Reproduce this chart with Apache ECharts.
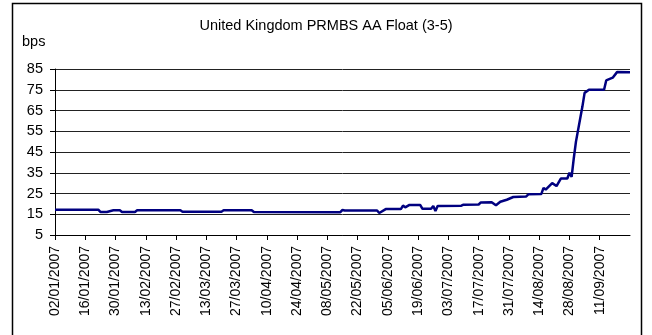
<!DOCTYPE html>
<html>
<head>
<meta charset="utf-8">
<script src="https://cdn.jsdelivr.net/npm/echarts@6/dist/echarts.min.js"></script>
<style>
html,body{margin:0;padding:0;background:#fff;}
#chart{width:652px;height:335px;}
</style>
</head>
<body>
<div id="chart"></div>
<script>
// observation dates (dd/mm/yyyy) and spread in bps
var dates = [
    '02/01/2007','22/01/2007','23/01/2007','26/01/2007','29/01/2007','01/02/2007','02/02/2007',
    '08/02/2007','09/02/2007','01/03/2007','02/03/2007','20/03/2007','21/03/2007','03/04/2007',
    '04/04/2007','14/05/2007','15/05/2007','16/05/2007','31/05/2007','01/06/2007','04/06/2007',
    '11/06/2007','12/06/2007','13/06/2007','15/06/2007','20/06/2007','21/06/2007','25/06/2007',
    '26/06/2007','27/06/2007','28/06/2007','09/07/2007','10/07/2007','17/07/2007','18/07/2007',
    '23/07/2007','25/07/2007','27/07/2007','30/07/2007','02/08/2007','08/08/2007','09/08/2007',
    '15/08/2007','16/08/2007','17/08/2007','20/08/2007','22/08/2007','24/08/2007','27/08/2007',
    '28/08/2007','29/08/2007','30/08/2007','31/08/2007','03/09/2007','04/09/2007','06/09/2007',
    '13/09/2007','14/09/2007','17/09/2007','19/09/2007','25/09/2007'
];
var values = [
    17.2,17.2,16.1,16.1,16.9,16.9,16.1,
    16.1,16.9,16.9,16.2,16.2,16.9,16.9,
    16.1,16.0,17.1,16.8,16.8,15.6,17.5,
    17.5,19.2,18.3,19.5,19.4,17.6,17.6,
    19.0,16.5,19.0,19.1,19.6,19.7,20.7,
    20.8,19.3,21.0,22.0,23.3,23.6,24.6,
    24.8,27.7,26.9,30.0,28.6,32.2,32.2,
    35.0,33.0,42.0,50.0,67.0,73.5,75.0,
    75.0,79.5,80.8,83.5,83.4
];
// x axis tick labels, every 14 days from 02/01/2007
var tickLabels = [
    '02/01/2007','16/01/2007','30/01/2007','13/02/2007','27/02/2007','13/03/2007','27/03/2007',
    '10/04/2007','24/04/2007','08/05/2007','22/05/2007','05/06/2007','19/06/2007','03/07/2007',
    '17/07/2007','31/07/2007','14/08/2007','28/08/2007','11/09/2007'
];

function toDay(s){
    var p = s.split('/');
    var t = Date.UTC(+p[2], +p[1]-1, +p[0]);
    return Math.round((t - Date.UTC(2007,0,2)) / 86400000);
}

var seriesData = dates.map(function(d,i){ return [toDay(d), values[i]]; });

var chart = echarts.init(document.getElementById('chart'));
var font = 'Liberation Sans, Arial, sans-serif';
chart.setOption({
    animation:false,
    backgroundColor:'#fff',
    title:{
        text:'United Kingdom PRMBS AA Float (3-5)',
        left:'center',
        top:13,
        textStyle:{fontFamily:font,fontSize:14.5,fontWeight:'normal',color:'#000'}
    },
    graphic:[
        {type:'rect',shape:{x:12.5,y:3.5,width:629,height:340},style:{fill:'none',stroke:'#000',lineWidth:1.5},silent:true},
        {type:'text',left:22,top:34,style:{text:'bps',font:'14.5px Liberation Sans, Arial, sans-serif',fill:'#000'}}
    ],
    grid:{left:55,right:22,top:69,bottom:100,outerBoundsMode:'none'},
    xAxis:{
        type:'value',
        min:0,
        max:266,
        interval:14,
        axisLine:{show:true,onZero:false,lineStyle:{color:'#000',width:1}},
        axisTick:{show:true,length:5,lineStyle:{color:'#000'}},
        splitLine:{show:false},
        axisLabel:{
            rotate:90,
            margin:11,
            fontFamily:font,
            fontSize:14,
            color:'#000',
            showMaxLabel:false,
            formatter:function(v){ var i = Math.round(v/14); return tickLabels[i] || ''; }
        }
    },
    yAxis:{
        type:'value',
        min:5,
        max:85,
        interval:10,
        axisLine:{show:true,lineStyle:{color:'#000',width:1}},
        axisTick:{show:true,length:5,lineStyle:{color:'#000'}},
        splitLine:{show:true,lineStyle:{color:'#222',width:1}},
        axisLabel:{margin:12,fontFamily:font,fontSize:14.5,color:'#000'}
    },
    series:[{
        type:'line',
        data:seriesData,
        symbol:'none',
        lineStyle:{color:'#000080',width:2.5},
        z:3
    }]
});
</script>
</body>
</html>
